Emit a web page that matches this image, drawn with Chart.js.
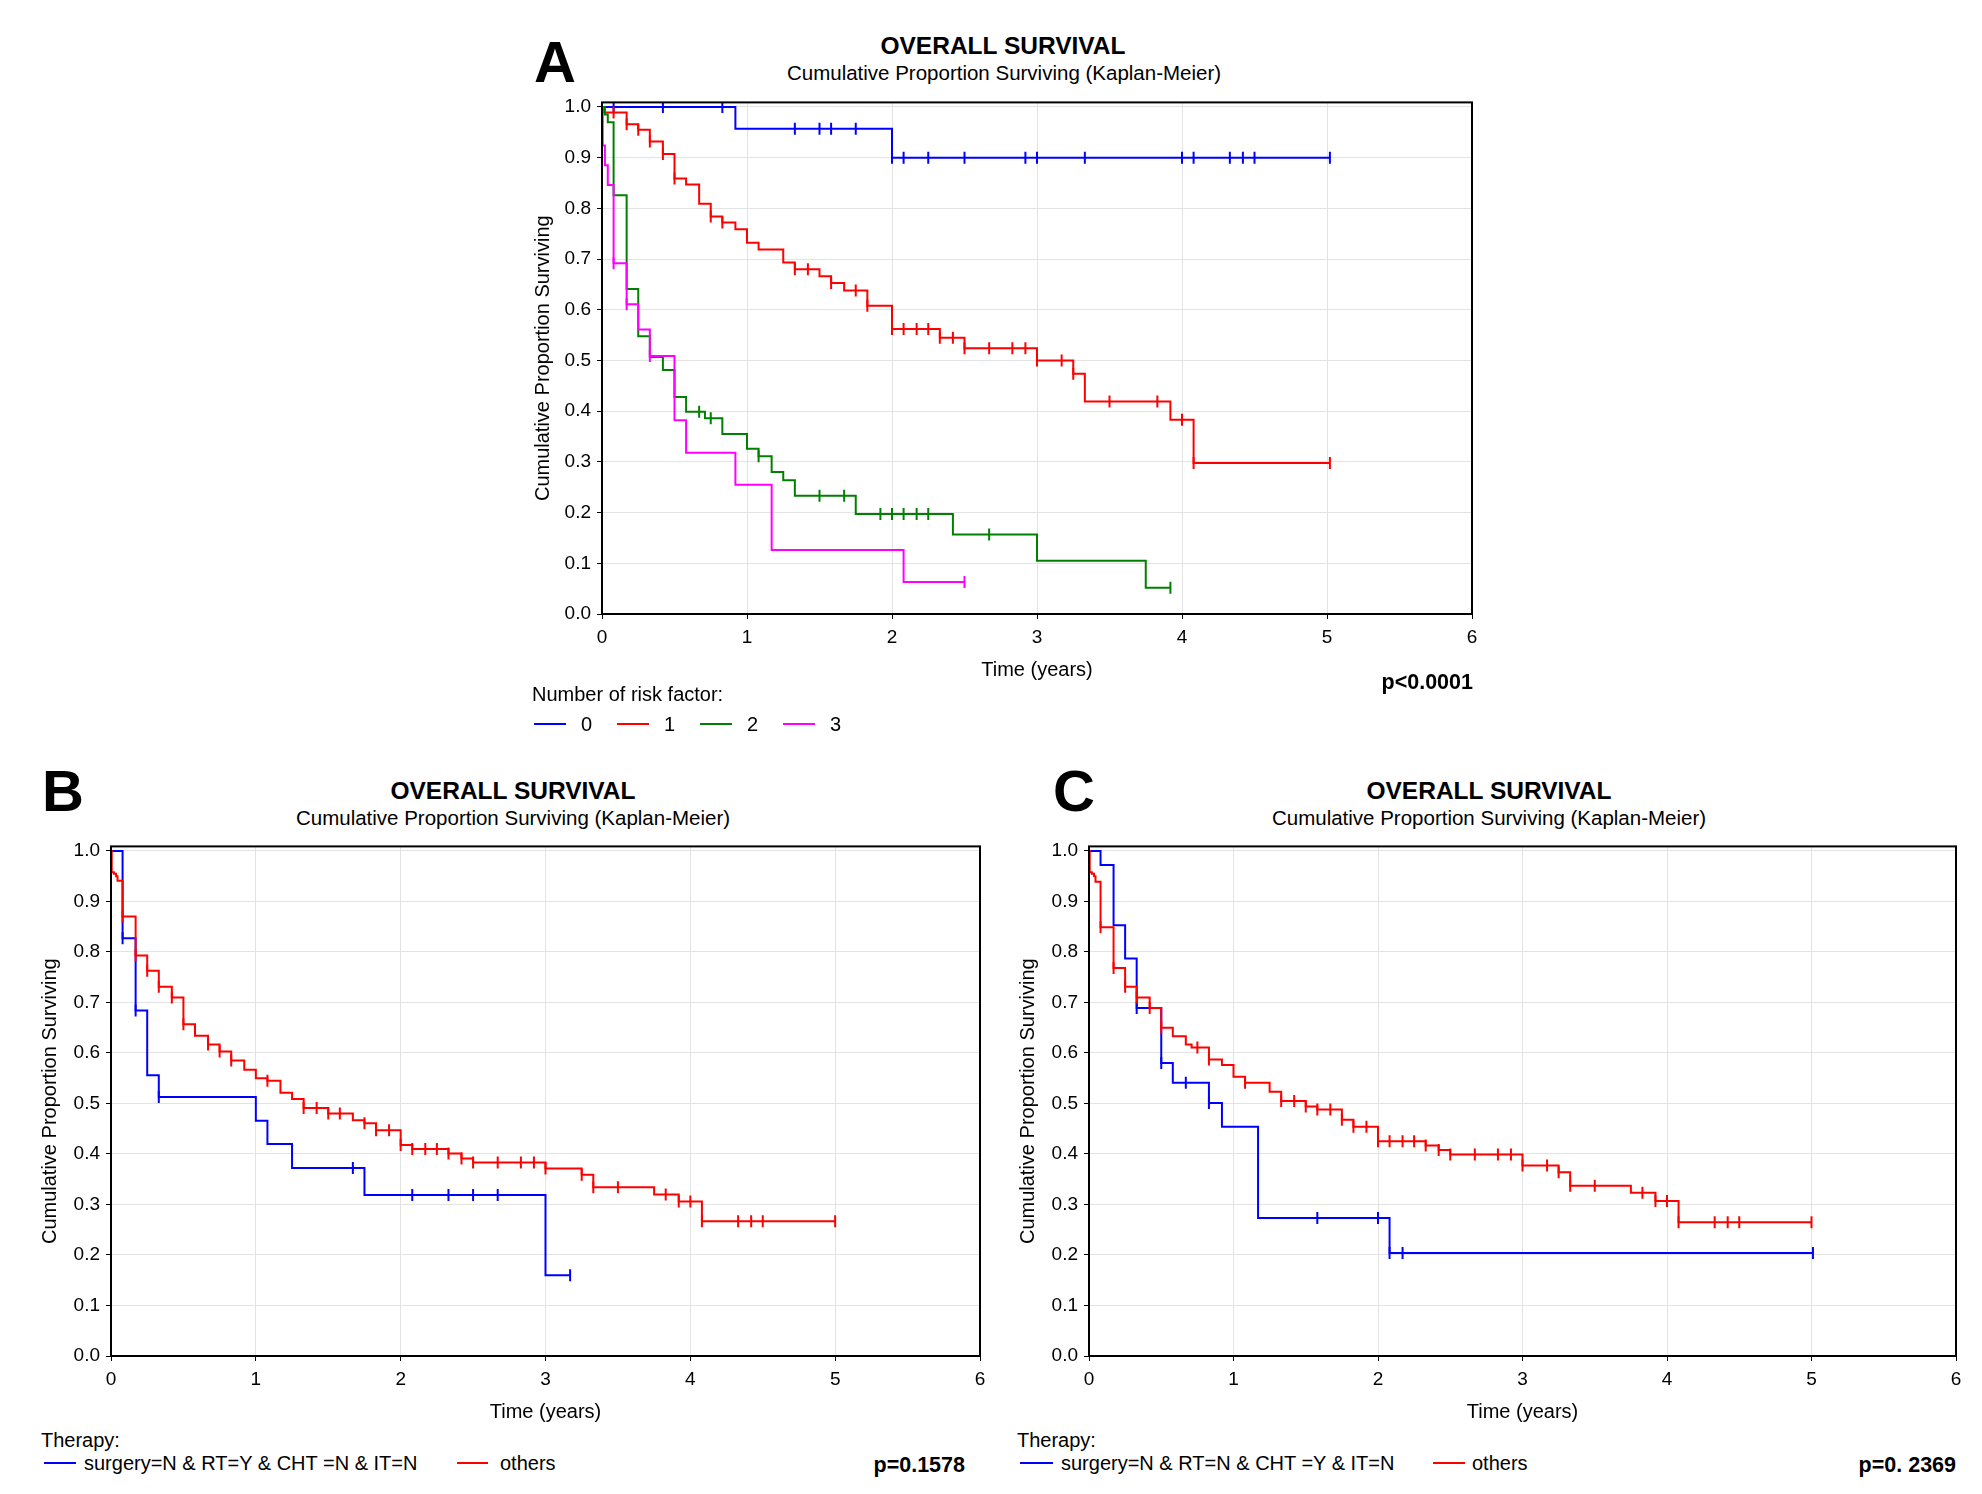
<!DOCTYPE html>
<html>
<head>
<meta charset="utf-8">
<title>Overall survival</title>
<script src="https://cdn.jsdelivr.net/npm/chart.js@4.4.1/dist/chart.umd.min.js"></script>
<style>
  html, body { margin: 0; padding: 0; background: #fff; }
  body { width: 1982px; height: 1494px; position: relative; overflow: hidden;
         font-family: 'Liberation Sans', Arial, sans-serif; color: #000; }
  .txt { position: absolute; white-space: nowrap; line-height: 1; }
  .letter { font-size: 58px; font-weight: bold; }
  .title { font-size: 24.5px; font-weight: bold; transform: translateX(-50%); }
  .subtitle { font-size: 20.5px; transform: translateX(-50%); }
  .legend { font-size: 20px; }
  .pval { font-size: 21.5px; font-weight: bold; }
  .swatch { position: absolute; height: 2px; }
  canvas { position: absolute; }
</style>
</head>
<body>
<script>
// axis ticks
const timeTicks = [0, 1, 2, 3, 4, 5, 6];
const survTicks = [0, 0.1, 0.2, 0.3, 0.4, 0.5, 0.6, 0.7, 0.8, 0.9, 1.0];

// Panel A - number of risk factors
const riskLabels = ['0', '1', '2', '3'];
const riskColors = ['#0000ff', '#ff0000', '#008000', '#ff00ff'];

const risk0Times = [0.92, 2.00];
const risk0Surv = [0.957, 0.900];
const risk0Cens = [0.08, 0.42, 0.83, 1.33, 1.50, 1.58, 1.75, 2.00, 2.08, 2.25, 2.50, 2.92, 3.00, 3.33, 4.00, 4.08, 4.33, 4.42, 4.50, 5.02];

const risk1Times = [0.01, 0.17, 0.25, 0.33, 0.42, 0.50, 0.58, 0.67, 0.75, 0.83, 0.92, 1.00, 1.08, 1.25, 1.33, 1.50, 1.58, 1.67, 1.83, 2.00, 2.33, 2.50, 3.00, 3.25, 3.33, 3.92, 4.08];
const risk1Surv = [0.989, 0.966, 0.955, 0.932, 0.907, 0.859, 0.847, 0.809, 0.784, 0.772, 0.759, 0.732, 0.719, 0.693, 0.680, 0.666, 0.653, 0.638, 0.608, 0.562, 0.545, 0.524, 0.500, 0.474, 0.419, 0.383, 0.298];
const risk1Cens = [0.08, 0.17, 0.25, 0.33, 0.42, 0.50, 0.75, 0.83, 1.33, 1.42, 1.58, 1.75, 1.83, 2.00, 2.08, 2.17, 2.25, 2.33, 2.42, 2.50, 2.67, 2.83, 2.92, 3.00, 3.17, 3.25, 3.50, 3.83, 4.00, 4.08, 5.02];

const risk2Times = [0.02, 0.04, 0.08, 0.17, 0.25, 0.33, 0.42, 0.50, 0.58, 0.71, 0.83, 1.00, 1.08, 1.17, 1.25, 1.33, 1.75, 2.42, 3.00, 3.75];
const risk2Surv = [0.985, 0.970, 0.826, 0.641, 0.548, 0.507, 0.481, 0.428, 0.399, 0.386, 0.355, 0.326, 0.311, 0.280, 0.264, 0.233, 0.197, 0.157, 0.105, 0.052];
const risk2Cens = [0.67, 0.75, 1.08, 1.50, 1.67, 1.92, 2.00, 2.08, 2.17, 2.25, 2.67, 3.92];

const risk3Times = [0.005, 0.02, 0.04, 0.08, 0.17, 0.25, 0.33, 0.50, 0.58, 0.92, 1.17, 2.08];
const risk3Surv = [0.924, 0.885, 0.846, 0.692, 0.611, 0.561, 0.509, 0.382, 0.318, 0.255, 0.126, 0.063];
const risk3Cens = [0.08, 0.17, 0.33, 2.50];

// Panel B - RT only vs others
const therapyLabelsB = ['surgery=N & RT=Y & CHT =N & IT=N', 'others'];
const bBlueTimes = [0.08, 0.17, 0.25, 0.33, 1.00, 1.08, 1.25, 1.75, 3.00];
const bBlueSurv = [0.827, 0.684, 0.556, 0.513, 0.466, 0.420, 0.372, 0.319, 0.160];
const bBlueCens = [0.08, 0.17, 0.33, 1.67, 2.08, 2.33, 2.50, 2.67, 3.17];

const bRedTimes = [0.005, 0.02, 0.035, 0.045, 0.08, 0.17, 0.25, 0.33, 0.42, 0.50, 0.58, 0.67, 0.75, 0.83, 0.92, 1.00, 1.08, 1.17, 1.25, 1.33, 1.50, 1.67, 1.75, 1.83, 2.00, 2.08, 2.33, 2.42, 2.50, 3.00, 3.25, 3.33, 3.75, 3.92, 4.08];
const bRedSurv = [0.958, 0.955, 0.950, 0.941, 0.870, 0.793, 0.763, 0.731, 0.710, 0.657, 0.634, 0.617, 0.603, 0.585, 0.567, 0.550, 0.545, 0.521, 0.509, 0.491, 0.480, 0.467, 0.461, 0.447, 0.418, 0.410, 0.401, 0.391, 0.383, 0.371, 0.359, 0.334, 0.320, 0.306, 0.267];
const bRedCens = [0.08, 0.17, 0.25, 0.33, 0.42, 0.50, 0.67, 0.75, 0.83, 1.08, 1.33, 1.42, 1.50, 1.58, 1.75, 1.83, 1.92, 2.00, 2.08, 2.17, 2.25, 2.33, 2.42, 2.50, 2.67, 2.83, 2.92, 3.00, 3.25, 3.33, 3.50, 3.83, 3.92, 4.00, 4.08, 4.33, 4.42, 4.50, 5.00];

// Panel C - CHT only vs others
const therapyLabelsC = ['surgery=N & RT=N & CHT =Y & IT=N', 'others'];
const cBlueTimes = [0.08, 0.17, 0.25, 0.33, 0.50, 0.58, 0.83, 0.92, 1.17, 2.08];
const cBlueSurv = [0.972, 0.853, 0.787, 0.689, 0.580, 0.541, 0.501, 0.454, 0.273, 0.204];
const cBlueCens = [0.33, 0.50, 0.67, 0.83, 1.58, 2.00, 2.08, 2.17, 5.01];

const cRedTimes = [0.005, 0.02, 0.035, 0.045, 0.08, 0.17, 0.25, 0.33, 0.42, 0.50, 0.58, 0.67, 0.71, 0.83, 0.92, 1.00, 1.08, 1.25, 1.33, 1.50, 1.58, 1.75, 1.83, 2.00, 2.33, 2.42, 2.50, 3.00, 3.25, 3.33, 3.75, 3.92, 4.08];
const cRedSurv = [0.958, 0.955, 0.950, 0.939, 0.849, 0.768, 0.731, 0.710, 0.689, 0.650, 0.633, 0.617, 0.611, 0.587, 0.576, 0.553, 0.541, 0.523, 0.505, 0.494, 0.488, 0.468, 0.454, 0.425, 0.417, 0.408, 0.399, 0.377, 0.364, 0.337, 0.323, 0.307, 0.265];
const cRedCens = [0.08, 0.17, 0.25, 0.33, 0.42, 0.50, 0.75, 0.83, 1.08, 1.33, 1.42, 1.50, 1.58, 1.67, 1.75, 1.83, 1.92, 2.00, 2.08, 2.17, 2.25, 2.33, 2.42, 2.50, 2.67, 2.83, 2.92, 3.00, 3.17, 3.25, 3.33, 3.50, 3.83, 3.92, 4.00, 4.08, 4.33, 4.42, 4.50, 5.00];

const pValues = ['p<0.0001', 'p=0.1578', 'p=0. 2369'];

Chart.defaults.font.family = "'Liberation Sans', Arial, sans-serif";
Chart.defaults.color = '#000';

// survival value at time t (step function)
function survAt(times, surv, t) {
    let s = 1;
    for (let i = 0; i < times.length; i++) {
        if (times[i] <= t + 1e-6) s = surv[i];
    }
    return s;
}

function buildDatasets(groups) {
    const sets = [];
    groups.forEach((g, i) => {
        const lastEvent = g.times[g.times.length - 1];
        const lastCens = g.cens.length ? g.cens[g.cens.length - 1] : 0;
        const pts = [{ x: 0, y: 1 }];
        g.times.forEach((t, k) => pts.push({ x: t, y: g.surv[k] }));
        pts.push({ x: Math.max(lastEvent, lastCens), y: g.surv[g.surv.length - 1] });
        // horizontal first, then drop: KM step
        sets.push({
            data: pts,
            borderColor: g.color,
            borderWidth: 2,
            stepped: 'before',
            pointRadius: 0,
            fill: false,
            order: -i
        });
        // censored marks
        sets.push({
            data: g.cens.map(t => ({ x: t, y: survAt(g.times, g.surv, t) })),
            showLine: false,
            pointStyle: 'line',
            pointRotation: 90,
            pointRadius: 6,
            pointHoverRadius: 6,
            pointBorderWidth: 2,
            pointBorderColor: g.color,
            borderColor: g.color,
            order: -i
        });
    });
    return sets;
}

const frame = {
    id: 'frame',
    afterDatasetsDraw(chart) {
        const a = chart.chartArea;
        const ctx = chart.ctx;
        ctx.save();
        ctx.strokeStyle = '#000';
        ctx.lineWidth = 2;
        ctx.strokeRect(a.left, a.top, a.right - a.left, a.bottom - a.top);
        ctx.restore();
    }
};

const Y_W = 75, X_H = 70, PAD = 14;

function makePanel(box, groups, yTitlePad) {
    const canvas = document.createElement('canvas');
    const w = box.right - box.left + Y_W + PAD;
    const h = box.bottom - box.top + PAD + X_H;
    canvas.width = w;
    canvas.height = h;
    canvas.style.width = w + 'px';
    canvas.style.height = h + 'px';
    canvas.style.left = (box.left - Y_W) + 'px';
    canvas.style.top = (box.top - PAD) + 'px';
    document.body.appendChild(canvas);

    const gridOpts = { color: '#e3e3e3', lineWidth: 1, tickLength: 5, tickColor: '#000', drawTicks: true };
    return new Chart(canvas, {
        type: 'line',
        data: { datasets: buildDatasets(groups) },
        options: {
            responsive: false,
            animation: false,
            events: [],
            layout: { padding: { top: PAD, right: PAD, left: 0, bottom: 0 } },
            plugins: { legend: { display: false }, tooltip: { enabled: false } },
            scales: {
                x: {
                    type: 'linear',
                    min: 0,
                    max: 6,
                    afterBuildTicks: s => { s.ticks = timeTicks.map(v => ({ value: v })); },
                    afterFit: s => { s.height = X_H; },
                    grid: gridOpts,
                    border: { display: false },
                    ticks: { font: { size: 19 }, padding: 7, autoSkip: false, maxRotation: 0, callback: v => String(v) },
                    title: { display: true, text: 'Time (years)', font: { size: 20 }, padding: { top: 0, bottom: 2 } }
                },
                y: {
                    type: 'linear',
                    min: 0,
                    max: 1.009,
                    afterBuildTicks: s => { s.ticks = survTicks.map(v => ({ value: v })); },
                    afterFit: s => { s.width = Y_W; },
                    grid: gridOpts,
                    border: { display: false },
                    ticks: { font: { size: 19 }, padding: 6, callback: v => Number(v).toFixed(1) },
                    title: { display: true, text: 'Cumulative Proportion Surviving', font: { size: 20 }, padding: { top: yTitlePad, bottom: 0 } }
                }
            }
        },
        plugins: [frame]
    });
}

function addText(text, cls, left, top, right) {
    const d = document.createElement('div');
    d.className = 'txt ' + cls;
    d.textContent = text;
    if (right !== undefined) d.style.right = (1982 - right) + 'px';
    else d.style.left = left + 'px';
    d.style.top = top + 'px';
    document.body.appendChild(d);
}

function addSwatch(color, left, width, top) {
    const d = document.createElement('div');
    d.className = 'swatch';
    d.style.background = color;
    d.style.left = left + 'px';
    d.style.width = width + 'px';
    d.style.top = top + 'px';
    document.body.appendChild(d);
}

// Panel A
makePanel({ left: 602, top: 99, right: 1472, bottom: 614 }, [
    { times: risk0Times, surv: risk0Surv, cens: risk0Cens, color: riskColors[0] },
    { times: risk1Times, surv: risk1Surv, cens: risk1Cens, color: riskColors[1] },
    { times: risk2Times, surv: risk2Surv, cens: risk2Cens, color: riskColors[2] },
    { times: risk3Times, surv: risk3Surv, cens: risk3Cens, color: riskColors[3] }
], 4);
addText('A', 'letter', 534, 33);
addText('OVERALL SURVIVAL', 'title', 1003, 34);
addText('Cumulative Proportion Surviving (Kaplan-Meier)', 'subtitle', 1004, 63);
addText('Number of risk factor:', 'legend', 532, 684);
const riskSwatchX = [534, 617, 700, 783];
riskLabels.forEach((lab, i) => {
    addSwatch(riskColors[i], riskSwatchX[i], 32, 723);
    addText(lab, 'legend', riskSwatchX[i] + 47, 714);
});
addText(pValues[0], 'pval', null, 672, 1473);

// Panel B
makePanel({ left: 111, top: 843, right: 980, bottom: 1356 }, [
    { times: bBlueTimes, surv: bBlueSurv, cens: bBlueCens, color: '#0000ff' },
    { times: bRedTimes, surv: bRedSurv, cens: bRedCens, color: '#ff0000' }
], 2);
addText('B', 'letter', 42, 762);
addText('OVERALL SURVIVAL', 'title', 513, 779);
addText('Cumulative Proportion Surviving (Kaplan-Meier)', 'subtitle', 513, 808);
addText('Therapy:', 'legend', 41, 1430);
addSwatch('#0000ff', 44, 32, 1462);
addText(therapyLabelsB[0], 'legend', 84, 1453);
addSwatch('#ff0000', 457, 31, 1462);
addText(therapyLabelsB[1], 'legend', 500, 1453);
addText(pValues[1], 'pval', null, 1455, 965);

// Panel C
makePanel({ left: 1089, top: 843, right: 1956, bottom: 1356 }, [
    { times: cBlueTimes, surv: cBlueSurv, cens: cBlueCens, color: '#0000ff' },
    { times: cRedTimes, surv: cRedSurv, cens: cRedCens, color: '#ff0000' }
], 2);
addText('C', 'letter', 1053, 762);
addText('OVERALL SURVIVAL', 'title', 1489, 779);
addText('Cumulative Proportion Surviving (Kaplan-Meier)', 'subtitle', 1489, 808);
addText('Therapy:', 'legend', 1017, 1430);
addSwatch('#0000ff', 1020, 33, 1462);
addText(therapyLabelsC[0], 'legend', 1061, 1453);
addSwatch('#ff0000', 1433, 32, 1462);
addText(therapyLabelsC[1], 'legend', 1472, 1453);
addText(pValues[2], 'pval', null, 1455, 1956);
</script>
</body>
</html>
